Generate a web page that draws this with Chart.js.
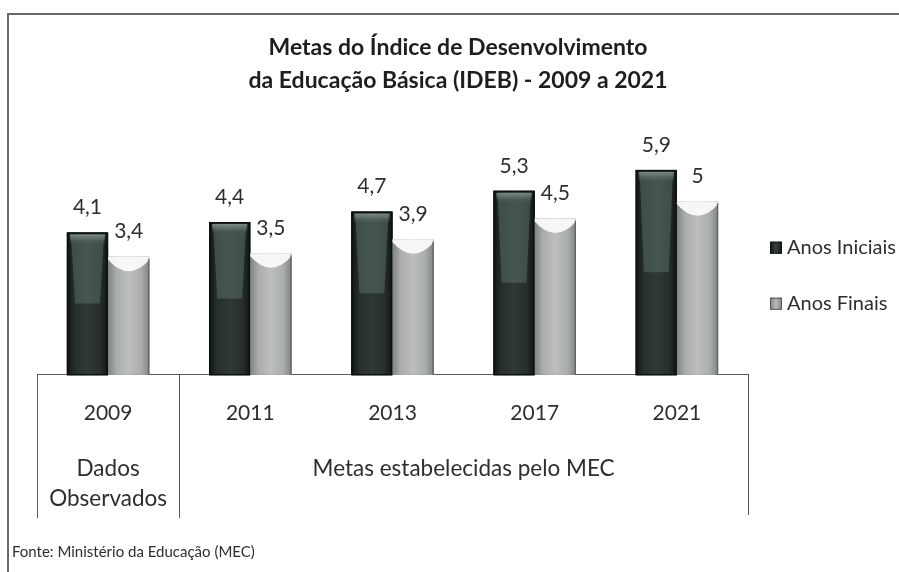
<!DOCTYPE html>
<html>
<head>
<meta charset="utf-8">
<script src="https://cdn.jsdelivr.net/npm/chart.js@4.4.1/dist/chart.umd.min.js"></script>
<style>
  html, body { margin: 0; padding: 0; background: #fff; }
  #wrap { position: relative; width: 899px; height: 572px; }
</style>
</head>
<body>
<div id="wrap"><canvas id="c" width="899" height="572"></canvas></div>
<script>
// data
const years = ['2009', '2011', '2013', '2017', '2021'];
const anosIniciais = [4.1, 4.4, 4.7, 5.3, 5.9];
const anosFinais = [3.4, 3.5, 3.9, 4.5, 5];
const seriesNames = ['Anos Iniciais', 'Anos Finais'];
const titleLines = ['Metas do Índice de Desenvolvimento', 'da Educação Básica (IDEB) - 2009 a 2021'];
const groupLabels = [
  { text: ['Dados', 'Observados'], from: 0, to: 0 },
  { text: ['Metas estabelecidas pelo MEC'], from: 1, to: 4 }
];
const sourceNote = 'Fonte: Ministério da Educação (MEC)';

const FONT = "Lato, 'Open Sans', sans-serif";
const TEXT = '#2e2e2e';

const fmt = v => String(v).replace('.', ',');

// white page + the scanned frame lines
const framePlugin = {
  id: 'frame',
  beforeDraw(chart) {
    const ctx = chart.ctx;
    ctx.save();
    ctx.fillStyle = '#fff';
    ctx.fillRect(0, 0, chart.width, chart.height);
    ctx.strokeStyle = '#6a6a6a';
    ctx.lineWidth = 2;
    ctx.beginPath();
    ctx.moveTo(8, chart.height);
    ctx.lineTo(8, 14);
    ctx.lineTo(chart.width, 14);
    ctx.stroke();
    ctx.restore();
  }
};

function shadeBar(ctx, bar, dark) {
  const l = bar.x - bar.width / 2, r = bar.x + bar.width / 2;
  const t = bar.y, b = bar.base, w = bar.width, h = b - t;
  ctx.save();
  const g = ctx.createLinearGradient(l, 0, r, 0);
  if (dark) {
    g.addColorStop(0, '#101412');
    g.addColorStop(0.18, '#252e2b');
    g.addColorStop(0.5, '#2f3935');
    g.addColorStop(0.82, '#252e2b');
    g.addColorStop(1, '#101412');
  } else {
    g.addColorStop(0, '#7f8381');
    g.addColorStop(0.2, '#a9adab');
    g.addColorStop(0.5, '#bcbfbd');
    g.addColorStop(0.8, '#a9adab');
    g.addColorStop(1, '#7f8381');
  }
  ctx.fillStyle = g;
  ctx.fillRect(l, t, w, h);
  if (dark) {
    // lighter trapezoid in the upper part
    ctx.fillStyle = 'rgba(100,120,113,0.45)';
    ctx.beginPath();
    ctx.moveTo(l + 4, t + 4);
    ctx.lineTo(r - 4, t + 4);
    ctx.lineTo(r - w * 0.2, t + h * 0.5);
    ctx.lineTo(l + w * 0.2, t + h * 0.5);
    ctx.closePath();
    ctx.fill();
    const tg = ctx.createLinearGradient(0, t, 0, t + 12);
    tg.addColorStop(0, 'rgba(175,190,185,0.9)');
    tg.addColorStop(1, 'rgba(80,95,90,0)');
    ctx.fillStyle = tg;
    ctx.fillRect(l + 3, t + 2, w - 6, 12);
    ctx.strokeStyle = '#0c100e';
    ctx.lineWidth = 1.5;
    ctx.strokeRect(l + 0.75, t + 0.75, w - 1.5, h - 0.75);
  } else {
    // pale concave cap
    ctx.fillStyle = 'rgba(250,250,250,0.95)';
    ctx.beginPath();
    ctx.moveTo(l, t);
    ctx.lineTo(r, t);
    ctx.lineTo(r, t + 3);
    ctx.quadraticCurveTo(bar.x, t + 26, l, t + 3);
    ctx.closePath();
    ctx.fill();
    ctx.strokeStyle = '#5f6260';
    ctx.lineWidth = 1.2;
    ctx.beginPath();
    ctx.moveTo(r - 0.6, t + 2);
    ctx.lineTo(r - 0.6, b);
    ctx.stroke();
  }
  ctx.restore();
}

// cylinder-ish shading on top of the flat bars
const shadePlugin = {
  id: 'shade',
  afterDatasetsDraw(chart) {
    chart.data.datasets.forEach((ds, di) => {
      chart.getDatasetMeta(di).data.forEach(bar => shadeBar(chart.ctx, bar, di === 0));
    });
  }
};

// value labels above each bar
const valuePlugin = {
  id: 'values',
  afterDatasetsDraw(chart) {
    const ctx = chart.ctx;
    ctx.save();
    ctx.font = '21px ' + FONT;
    ctx.fillStyle = TEXT;
    ctx.textAlign = 'center';
    ctx.textBaseline = 'middle';
    chart.data.datasets.forEach((ds, di) => {
      chart.getDatasetMeta(di).data.forEach((bar, i) => {
        ctx.fillText(fmt(ds.data[i]), bar.x, bar.y - 25);
      });
    });
    ctx.restore();
  }
};

// legend to the right of the plot, built from the datasets
const legendPlugin = {
  id: 'sideLegend',
  afterDraw(chart) {
    const ctx = chart.ctx;
    const area = chart.chartArea;
    ctx.save();
    ctx.font = '20px ' + FONT;
    ctx.textAlign = 'left';
    ctx.textBaseline = 'middle';
    chart.data.datasets.forEach((ds, i) => {
      const x = area.right + 22;
      const y = area.top + 116 + i * 56;
      const g = ctx.createLinearGradient(x, 0, x + 12, 0);
      g.addColorStop(0, i === 0 ? '#111' : '#7d817f');
      g.addColorStop(0.5, i === 0 ? '#3a4541' : '#b9bcba');
      g.addColorStop(1, i === 0 ? '#111' : '#7d817f');
      ctx.fillStyle = g;
      ctx.fillRect(x, y - 6, 12, 12);
      ctx.strokeStyle = i === 0 ? '#111' : '#555';
      ctx.lineWidth = 1;
      ctx.strokeRect(x + 0.5, y - 5.5, 11, 11);
      ctx.fillStyle = TEXT;
      ctx.fillText(ds.label, x + 17, y);
    });
    ctx.restore();
  }
};

// table lines under the axis, group captions and source
const tablePlugin = {
  id: 'table',
  afterDraw(chart) {
    const ctx = chart.ctx;
    const x = chart.scales.x;
    const base = chart.chartArea.bottom;
    const half = (x.getPixelForTick(1) - x.getPixelForTick(0)) / 2;
    ctx.save();
    ctx.strokeStyle = '#5a5a5a';
    ctx.lineWidth = 1;
    const sep = x.getPixelForTick(0) + half;
    [[x.left, 518], [sep, 518], [x.right, 515]].forEach(([px, y2]) => {
      ctx.beginPath();
      ctx.moveTo(Math.round(px) + 0.5, base);
      ctx.lineTo(Math.round(px) + 0.5, y2);
      ctx.stroke();
    });
    ctx.font = '22.5px ' + FONT;
    ctx.fillStyle = TEXT;
    ctx.textAlign = 'center';
    ctx.textBaseline = 'middle';
    groupLabels.forEach(g => {
      const cx = (x.getPixelForTick(g.from) + x.getPixelForTick(g.to)) / 2;
      g.text.forEach((line, k) => ctx.fillText(line, cx, base + 94 + k * 30));
    });
    ctx.font = '15px ' + FONT;
    ctx.textAlign = 'left';
    ctx.fillText(sourceNote, 12, 552);
    ctx.restore();
  }
};

new Chart(document.getElementById('c'), {
  type: 'bar',
  data: {
    labels: years,
    datasets: [
      { label: seriesNames[0], data: anosIniciais, backgroundColor: '#2a3330', borderWidth: 0 },
      { label: seriesNames[1], data: anosFinais, backgroundColor: '#b0b3b1', borderWidth: 0 }
    ]
  },
  options: {
    responsive: false,
    animation: false,
    devicePixelRatio: 1,
    datasets: { bar: { categoryPercentage: 0.58, barPercentage: 1 } },
    layout: { padding: { left: 37, right: 20, top: 0, bottom: 120 } },
    scales: {
      x: {
        grid: { display: false, drawTicks: false },
        border: { display: true, color: '#5a5a5a', width: 1 },
        ticks: { color: TEXT, font: { family: FONT, size: 21 }, padding: 26 }
      },
      // invisible right axis keeps room for the legend
      y: {
        position: 'right',
        min: 0,
        max: 7,
        grid: { display: false },
        border: { display: false },
        ticks: { display: false },
        afterFit(scale) { scale.width = 131; }
      }
    },
    plugins: {
      title: {
        display: true,
        text: titleLines,
        color: '#1e1e1e',
        font: { family: FONT, size: 23, weight: 'bold', lineHeight: 1.45 },
        padding: { top: 31, bottom: 34 }
      },
      legend: { display: false },
      tooltip: { enabled: false }
    }
  },
  plugins: [framePlugin, shadePlugin, valuePlugin, legendPlugin, tablePlugin]
});
</script>
</body>
</html>
